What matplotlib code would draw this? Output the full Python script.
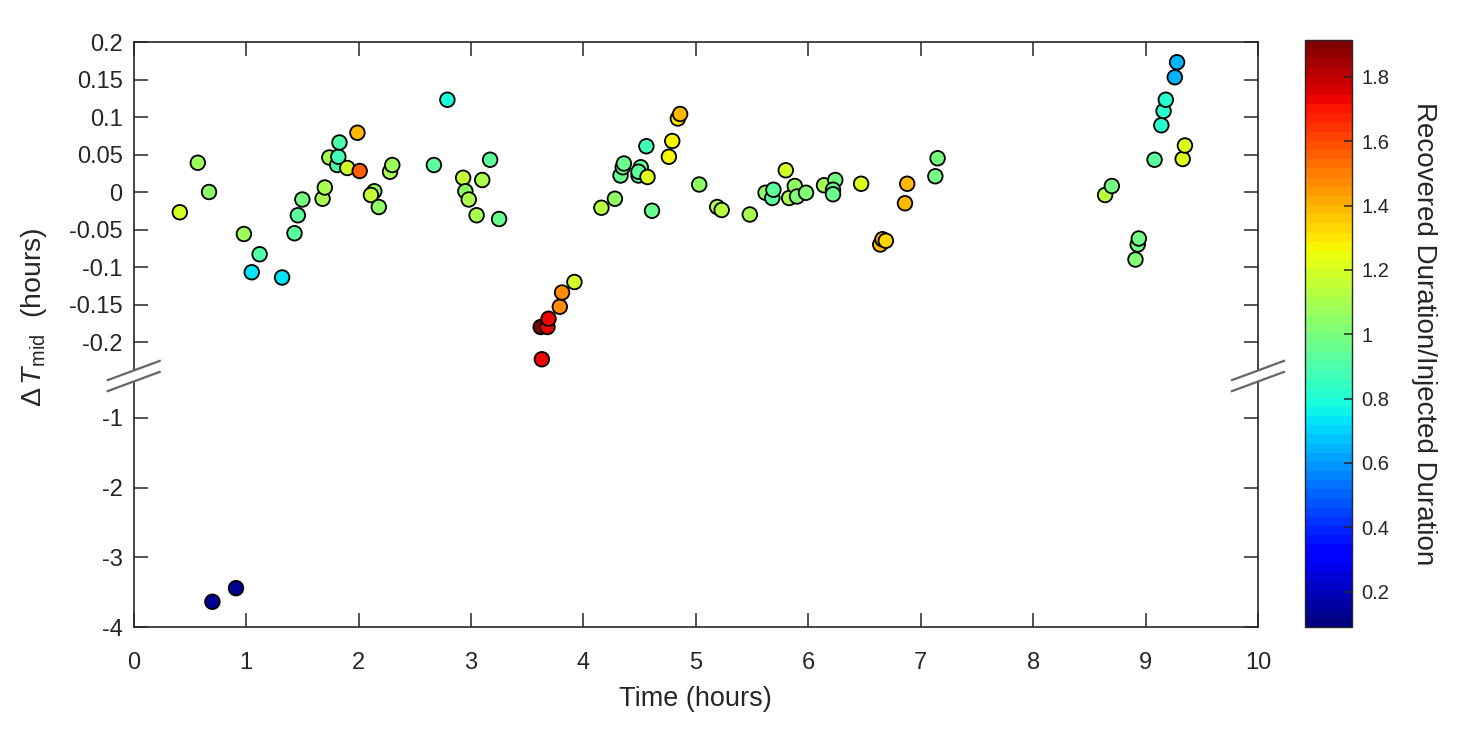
import matplotlib
matplotlib.use("Agg")
import matplotlib.pyplot as plt
import numpy as np
from matplotlib.lines import Line2D
from matplotlib.patches import Polygon

plt.rcParams['font.family'] = ['Liberation Sans', 'DejaVu Sans']
plt.rcParams['mathtext.fontset'] = 'custom'
plt.rcParams['mathtext.rm'] = 'Liberation Sans'
plt.rcParams['mathtext.it'] = 'Liberation Sans:italic'

# time (hours), mid-time offset (hours), duration ratio
time = [0.41, 0.57, 0.67, 0.98, 1.12, 1.05, 1.32, 1.43, 1.46, 1.50,
        1.68, 1.70, 1.74, 1.81, 1.82, 1.83, 1.90, 1.99, 2.01, 2.14,
        2.11, 2.18, 2.28, 2.30, 2.67, 2.79, 2.93, 2.95, 2.98, 3.10,
        3.05, 3.17, 3.25, 3.63, 3.62, 3.68, 3.69, 3.79, 3.81, 3.92,
        4.16, 4.28, 4.33, 4.35, 4.36, 4.49, 4.51, 4.49, 4.57, 4.56,
        4.61, 4.76, 4.79, 4.84, 4.86, 5.03, 5.19, 5.23, 5.48, 5.62,
        5.68, 5.69, 5.80, 5.83, 5.88, 5.90, 5.98, 6.14, 6.24, 6.22,
        6.22, 6.47, 6.64, 6.66, 6.69, 6.86, 6.88, 7.13, 7.15, 8.64,
        8.70, 8.91, 8.93, 8.94, 9.08, 9.14, 9.16, 9.18, 9.26, 9.28,
        9.33, 9.35, 0.70, 0.91]
dtmid = [-0.027, 0.039, 0.000, -0.056, -0.083, -0.107, -0.114, -0.055, -0.031, -0.010,
         -0.009, 0.006, 0.046, 0.036, 0.047, 0.066, 0.032, 0.079, 0.028, 0.001,
         -0.004, -0.020, 0.027, 0.036, 0.036, 0.123, 0.019, 0.001, -0.010, 0.016,
         -0.031, 0.043, -0.036, -0.223, -0.180, -0.180, -0.169, -0.153, -0.134, -0.120,
         -0.021, -0.009, 0.022, 0.033, 0.038, 0.022, 0.033, 0.027, 0.020, 0.061,
         -0.025, 0.047, 0.068, 0.098, 0.104, 0.010, -0.020, -0.024, -0.030, -0.001,
         -0.008, 0.003, 0.029, -0.008, 0.008, -0.006, -0.001, 0.009, 0.016, 0.003,
         -0.003, 0.011, -0.070, -0.063, -0.065, -0.015, 0.011, 0.021, 0.045, -0.004,
         0.008, -0.090, -0.070, -0.062, 0.043, 0.089, 0.108, 0.123, 0.153, 0.173,
         0.044, 0.062, -3.638, -3.443]
ratio = [1.18, 1.08, 1.05, 1.06, 0.90, 0.72, 0.74, 0.92, 0.92, 0.98,
         1.10, 1.10, 1.10, 0.90, 0.86, 0.90, 1.20, 1.39, 1.55, 1.05,
         1.15, 1.05, 1.10, 1.06, 0.92, 0.80, 1.15, 1.05, 1.10, 1.10,
         1.10, 0.92, 0.95, 1.73, 1.90, 1.73, 1.73, 1.46, 1.46, 1.18,
         1.12, 1.05, 0.95, 0.95, 0.95, 0.95, 0.95, 0.92, 1.22, 0.88,
         0.95, 1.28, 1.28, 1.30, 1.40, 1.05, 1.10, 1.12, 1.10, 1.05,
         0.92, 0.92, 1.18, 1.10, 1.05, 1.02, 1.02, 1.10, 1.00, 0.95,
         0.95, 1.23, 1.40, 1.40, 1.33, 1.38, 1.38, 1.00, 1.00, 1.12,
         1.00, 1.02, 1.00, 1.00, 0.92, 0.82, 0.82, 0.82, 0.64, 0.64,
         1.23, 1.23, 0.13, 0.13]

top_ticks = [0.2, 0.15, 0.1, 0.05, 0, -0.05, -0.1, -0.15, -0.2]
top_labels = ['0.2', '0.15', '0.1', '0.05', '0', '-0.05', '-0.1', '-0.15', '-0.2']
bot_ticks = [-1, -2, -3, -4]
bot_labels = ['-1', '-2', '-3', '-4']
cb_ticks = [0.2, 0.4, 0.6, 0.8, 1.0, 1.2, 1.4, 1.6, 1.8]
cb_labels = ['0.2', '0.4', '0.6', '0.8', '1', '1.2', '1.4', '1.6', '1.8']

x = np.array(time)
y = np.array(dtmid)
c = np.array(ratio)

W, H = 1480, 736
fig = plt.figure(figsize=(W / 100, H / 100), dpi=100)

def fr(x0, y0, x1, y1):
    return [x0 / W, 1 - y1 / H, (x1 - x0) / W, (y1 - y0) / H]

left, right = 133.7, 1258
ybreak = 376
ax_top = fig.add_axes(fr(left, 42, right, ybreak))
ax_bot = fig.add_axes(fr(left, ybreak, right, 627))

cmap = plt.get_cmap('jet', 64)
vmin, vmax = 0.09, 1.915
ink = '#262626'

up = y > -0.3
sc = ax_top.scatter(x[up], y[up], c=c[up], cmap=cmap, vmin=vmin, vmax=vmax,
                    s=110, edgecolors='black', linewidths=1.3, zorder=3)
ax_bot.scatter(x[~up], y[~up], c=c[~up], cmap=cmap, vmin=vmin, vmax=vmax,
               s=110, edgecolors='black', linewidths=1.3, zorder=3)

ax_top.set_ylim((192 - ybreak) / 750, 0.2)
ax_bot.set_ylim(-4, -1 + (418 - ybreak) / 70)
for ax in (ax_top, ax_bot):
    ax.set_xlim(0, 10)
    ax.set_xticks(range(11))
    for s in ax.spines.values():
        s.set_color(ink)
        s.set_linewidth(1.2)
    ax.tick_params(direction='in', length=10, width=1.1, colors=ink,
                   labelsize=17, right=True, top=True, pad=8)

ax_top.spines['bottom'].set_visible(False)
ax_top.tick_params(axis='x', bottom=False, labelbottom=False)
ax_top.set_yticks(top_ticks)
ax_top.set_yticklabels(top_labels)
ax_bot.spines['top'].set_visible(False)
ax_bot.tick_params(axis='x', top=False, pad=18)
ax_bot.set_yticks(bot_ticks)
ax_bot.set_yticklabels(bot_labels)
ax_bot.set_xticklabels([str(i) for i in range(11)])
ax_bot.set_xlabel('Time (hours)', fontsize=19.5, color=ink, labelpad=9)

fig.text(34 / W, 1 - 317 / H, r'$\Delta\, T_{\mathrm{mid}}$  (hours)', rotation=90,
         ha='center', va='center', fontsize=20.5, color=ink)

# axis break marks
for xc in (left, right):
    dx, slope, gap = 26, 0.37, 5.5
    pts = []
    for sgn in (-1, 1):
        xs = [xc - dx, xc + dx]
        ys = [ybreak + sgn * gap + dx * slope, ybreak + sgn * gap - dx * slope]
        pts.append((xs, ys))
    poly = [(pts[0][0][0], pts[0][1][0]), (pts[0][0][1], pts[0][1][1]),
            (pts[1][0][1], pts[1][1][1]), (pts[1][0][0], pts[1][1][0])]
    fig.patches.append(Polygon([(px / W, 1 - py / H) for px, py in poly],
                               closed=True, facecolor='white', edgecolor='none',
                               transform=fig.transFigure, zorder=10))
    for xs, ys in pts:
        fig.lines.append(Line2D([v / W for v in xs], [1 - v / H for v in ys],
                                color='#666666', lw=1.6, transform=fig.transFigure,
                                zorder=11))

cax = fig.add_axes(fr(1305, 40, 1352, 627))
cb = fig.colorbar(sc, cax=cax, ticks=cb_ticks)
cb.ax.set_yticklabels(cb_labels)
cb.ax.tick_params(direction='in', length=6, width=1.1, colors=ink, labelsize=14.5, pad=7)
cb.outline.set_edgecolor(ink)
cb.outline.set_linewidth(1.0)
cb.set_label('Recovered Duration/Injected Duration', rotation=270, fontsize=20,
             color=ink, labelpad=34)

fig.savefig('out.png', dpi=100)
